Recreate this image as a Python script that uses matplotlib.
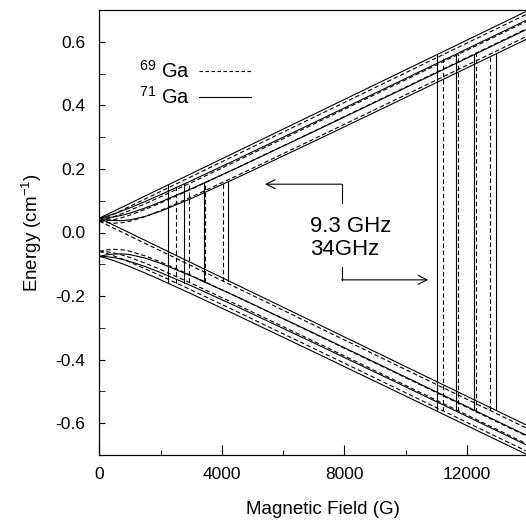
import numpy as np
import matplotlib
matplotlib.use("Agg")
import matplotlib.pyplot as plt

plt.rcParams["font.family"] = ["Liberation Sans", "DejaVu Sans"]
plt.rcParams["mathtext.fontset"] = "custom"
plt.rcParams["mathtext.rm"] = "Liberation Sans"
plt.rcParams["axes.unicode_minus"] = False

# magnetic field (G) at which the levels were read
field = [0, 250, 500, 750, 1000, 1500, 2000, 3000, 4500, 7000, 10000, 14000]

# 71Ga levels (cm-1), upper (mS=+1/2 at high field) and lower branches
ga71_u2 = [0.0450, 0.0567, 0.0683, 0.0800, 0.0917, 0.1150, 0.1384, 0.1851, 0.2551, 0.3718, 0.5119, 0.6986]
ga71_u1 = [0.0450, 0.0516, 0.0595, 0.0682, 0.0776, 0.0977, 0.1189, 0.1628, 0.2307, 0.3456, 0.4846, 0.6706]
ga71_u0 = [0.0450, 0.0461, 0.0494, 0.0545, 0.0610, 0.0772, 0.0960, 0.1374, 0.2035, 0.3173, 0.4557, 0.6413]
ga71_um1 = [0.0450, 0.0401, 0.0374, 0.0372, 0.0396, 0.0506, 0.0670, 0.1067, 0.1724, 0.2863, 0.4249, 0.6107]
ga71_lm2 = [0.0450, 0.0333, 0.0217, 0.0100, -0.0017, -0.0250, -0.0484, -0.0951, -0.1651, -0.2818, -0.4219, -0.6086]
ga71_l1 = [-0.0750, -0.0816, -0.0895, -0.0982, -0.1076, -0.1277, -0.1489, -0.1928, -0.2607, -0.3756, -0.5146, -0.7006]
ga71_l0 = [-0.0750, -0.0761, -0.0794, -0.0845, -0.0910, -0.1072, -0.1260, -0.1674, -0.2335, -0.3473, -0.4857, -0.6713]
ga71_lm1 = [-0.0750, -0.0701, -0.0674, -0.0672, -0.0696, -0.0806, -0.0970, -0.1367, -0.2024, -0.3163, -0.4549, -0.6407]

# 69Ga levels (cm-1)
ga69_u2 = [0.0356, 0.0473, 0.0590, 0.0706, 0.0823, 0.1057, 0.1290, 0.1757, 0.2457, 0.3624, 0.5025, 0.6892]
ga69_u1 = [0.0356, 0.0424, 0.0507, 0.0599, 0.0697, 0.0905, 0.1123, 0.1570, 0.2256, 0.3411, 0.4805, 0.6667]
ga69_u0 = [0.0356, 0.0370, 0.0410, 0.0471, 0.0547, 0.0727, 0.0929, 0.1360, 0.2035, 0.3184, 0.4574, 0.6434]
ga69_um1 = [0.0356, 0.0310, 0.0293, 0.0308, 0.0352, 0.0500, 0.0690, 0.1115, 0.1790, 0.2940, 0.4331, 0.6193]
ga69_lm2 = [0.0356, 0.0240, 0.0123, 0.0006, -0.0111, -0.0344, -0.0577, -0.1044, -0.1745, -0.2912, -0.4312, -0.6180]
ga69_l1 = [-0.0594, -0.0662, -0.0744, -0.0836, -0.0934, -0.1143, -0.1360, -0.1808, -0.2493, -0.3648, -0.5042, -0.6905]
ga69_l0 = [-0.0594, -0.0608, -0.0648, -0.0709, -0.0785, -0.0965, -0.1166, -0.1598, -0.2273, -0.3421, -0.4811, -0.6672]
ga69_lm1 = [-0.0594, -0.0547, -0.0530, -0.0545, -0.0590, -0.0738, -0.0927, -0.1352, -0.2027, -0.3177, -0.4569, -0.6431]

# resonance fields (G), mI = 3/2, 1/2, -1/2, -3/2
res71_x = [2256, 2771, 3419, 4203]
res69_x = [2496, 2926, 3439, 4031]
res71_q = [11031, 11642, 12239, 12947]
res69_q = [11227, 11717, 12285, 12753]

DASH = (0, (4.0, 2.4))
LW = 0.8


def draw(ax, upper, lower, res, ls):
    for lev in upper + lower:
        ax.plot(field, lev, color="black", lw=LW, ls=ls)
    # transitions: lower level -> upper level with the same mI
    pairs = [(lower[1], upper[0]), (lower[2], upper[1]), (lower[3], upper[2]), (lower[0], upper[3])]
    for fields in res:
        for b, (lo, hi) in zip(fields, pairs):
            ax.plot([b, b], [np.interp(b, field, lo), np.interp(b, field, hi)],
                    color="black", lw=LW, ls=ls)


fig = plt.figure(figsize=(5.26, 5.24), dpi=100)
ax = fig.add_axes([99.3 / 526, 69 / 524, 1 - 99.3 / 526, 445 / 524])

draw(ax, [ga69_u2, ga69_u1, ga69_u0, ga69_um1], [ga69_lm2, ga69_l1, ga69_l0, ga69_lm1],
     [res69_x, res69_q], DASH)
draw(ax, [ga71_u2, ga71_u1, ga71_u0, ga71_um1], [ga71_lm2, ga71_l1, ga71_l0, ga71_lm1],
     [res71_x, res71_q], "-")

ax.set_xlim(0, 13928)
ax.set_ylim(-0.7, 0.7)
ax.set_xticks([0, 4000, 8000, 12000])
ax.set_xticks(np.arange(0, 14000, 2000), minor=True)
ax.set_yticks([-0.6, -0.4, -0.2, 0.0, 0.2, 0.4, 0.6])
ax.set_yticks(np.arange(-0.6, 0.65, 0.1), minor=True)
ax.yaxis.set_major_formatter(plt.FormatStrFormatter("%.1f"))
ax.tick_params(which="both", direction="in", labelsize=12.5)
ax.tick_params(axis="x", which="major", length=7, pad=8.5)
ax.tick_params(axis="x", which="minor", length=3.5)
ax.tick_params(axis="y", which="both", length=4, pad=10)
ax.spines["right"].set_visible(False)
for s in ax.spines.values():
    s.set_linewidth(0.9)

ax.set_xlabel("Magnetic Field (G)", fontsize=13.5)
ax.xaxis.set_label_coords(0.525, -0.103)
ax.set_ylabel("Energy (cm$^{\\mathregular{-1}}$)", fontsize=13.5, labelpad=8)

h69, = ax.plot([], [], color="black", lw=LW, ls=(0, (3.2, 2.2)))
h71, = ax.plot([], [], color="black", lw=LW, ls="-")
ax.legend([h69, h71], ["$^{\\mathregular{69}}$ Ga", "$^{\\mathregular{71}}$ Ga"],
          markerfirst=False, frameon=False, loc="upper left",
          bbox_to_anchor=(0.093, 0.888), fontsize=14.5, handlelength=2.6,
          handletextpad=0.45, labelspacing=0.22, borderpad=0, borderaxespad=0)

# frequency labels with pointer arrows
ax.text(6877, 0.019, "9.3 GHz", fontsize=16, va="center", ha="left")
ax.text(6877, -0.0535, "34GHz", fontsize=16, va="center", ha="left")
corner_b = 7911
ax.plot([corner_b, corner_b], [0.152, 0.093], color="black", lw=LW)
ax.annotate("", xy=(5408, 0.152), xytext=(corner_b, 0.152),
            arrowprops=dict(arrowstyle="->", lw=LW, color="black", mutation_scale=16,
                            shrinkA=0, shrinkB=0))
ax.plot([corner_b, corner_b], [-0.1075, -0.149], color="black", lw=LW)
ax.annotate("", xy=(10737, -0.149), xytext=(corner_b, -0.149),
            arrowprops=dict(arrowstyle="->", lw=LW, color="black", mutation_scale=16,
                            shrinkA=0, shrinkB=0))

fig.savefig("out.png", dpi=100)
